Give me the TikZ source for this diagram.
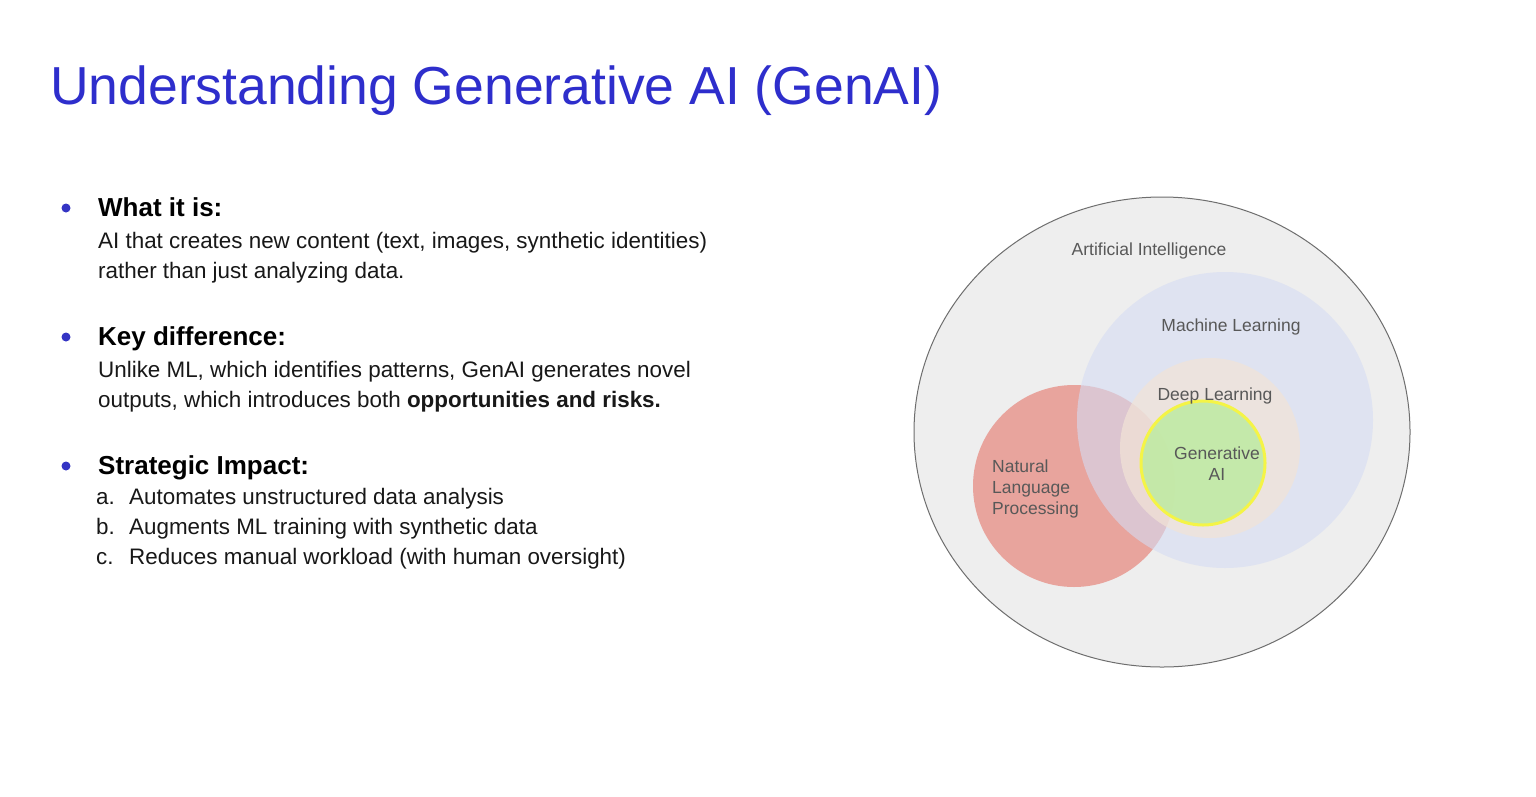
\documentclass[tikz,border=0pt]{standalone}
\usepackage{fontspec}
\setmainfont{Liberation Sans}
\usetikzlibrary{positioning}
\definecolor{titleblue}{RGB}{46,46,204}
\definecolor{dotblue}{RGB}{52,52,196}
\definecolor{bodyink}{RGB}{24,24,24}
\definecolor{vennink}{RGB}{88,88,88}
\definecolor{aifill}{RGB}{238,238,238}
\definecolor{aiedge}{RGB}{110,110,110}
\definecolor{nlpfill}{RGB}{232,164,157}
\definecolor{mlfill}{RGB}{213,220,243}
\definecolor{dlfill}{RGB}{242,228,214}
\definecolor{gafill}{RGB}{190,235,161}
\definecolor{gaedge}{RGB}{244,244,70}
\tikzset{
  head/.style={anchor=base west,inner sep=0pt,text=black,font=\fontsize{26}{30}\selectfont\bfseries},
  body/.style={anchor=base west,inner sep=0pt,text=bodyink,font=\fontsize{22.4}{30}\selectfont},
  dot/.style={circle,fill=dotblue,inner sep=0pt,minimum size=9pt},
  venn/.style={inner sep=0pt,text=vennink,font=\fontsize{17.5}{21}\selectfont}
}
\begin{document}
\begin{tikzpicture}[x=1pt,y=-1pt,line join=round,line cap=round]
	\useasboundingbox[fill=white] (0,0) rectangle (1536,796);
	\node[anchor=base west,inner sep=0pt,text=titleblue,font=\fontsize{53.5}{60}\selectfont] (title) at (50,104) {Understanding Generative AI (GenAI)};
	% bullets and headings
	\foreach \n/\y/\t in {1/216/What it is:,2/345/Key difference:,3/474/Strategic Impact:}{
		\node[dot] (dot\n) at (66,\y-8) {};
		\node[head] (head\n) at (98,\y) {\t};
	}
	\node[body] (what1) at (98,248) {AI that creates new content (text, images, synthetic identities)};
	\node[body] (what2) at (98,278) {rather than just analyzing data.};
	\node[body] (key1) at (98,377) {Unlike ML, which identifies patterns, GenAI generates novel};
	\node[body] (key2) at (98,407) {outputs, which introduces both \textbf{opportunities and risks.}};
	\foreach \l/\y/\t in {a/504/Automates unstructured data analysis,b/534/Augments ML training with synthetic data,c/564/Reduces manual workload (with human oversight)}{
		\node[body] (lab\l) at (96,\y) {\l.};
		\node[body] (item\l) at (129,\y) {\t};
	}
	% venn diagram
	\path
	(1162,432) coordinate(AI)
	(1074,486) coordinate(NLP)
	(1225,420) coordinate(ML)
	(1210,448) coordinate(DL)
	(1203,463) coordinate(GA)
	;
	\draw[aiedge,fill=aifill,line width=1pt] (AI) ellipse [x radius=248pt,y radius=235pt];
	\fill[nlpfill] (NLP) circle (101pt);
	\fill[mlfill,opacity=0.6] (ML) circle (148pt);
	\fill[dlfill,opacity=0.7] (DL) circle (90pt);
	\draw[gaedge,line width=3pt,fill=gafill,fill opacity=0.85] (GA) circle (62pt);
	\node[venn,anchor=base] (ailab) at (1149,255) {Artificial Intelligence};
	\node[venn,anchor=base] (mllab) at (1231,331) {Machine Learning};
	\node[venn,anchor=base] (dllab) at (1215,400) {Deep Learning};
	\node[venn,anchor=base,align=center] (galab) at (1217,480) {Generative\\AI};
	\node[venn,anchor=base west,align=left] (nlplab) at (992,514) {Natural\\Language\\Processing};
\end{tikzpicture}
\end{document}
